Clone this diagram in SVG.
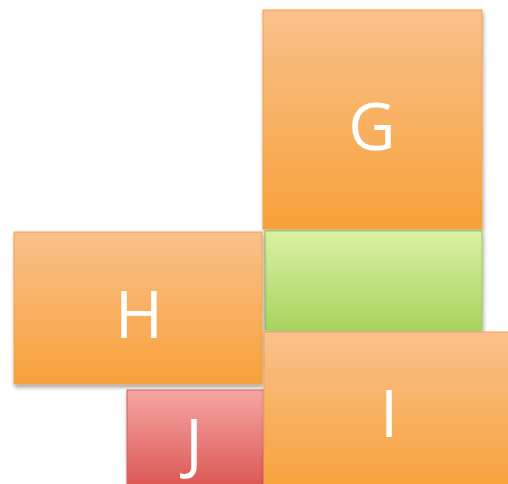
<svg xmlns="http://www.w3.org/2000/svg" width="508" height="484" viewBox="0 0 508 484">
<defs>
<linearGradient id="og" x1="0" y1="0" x2="0" y2="1"><stop offset="0" stop-color="#F9C18B"/><stop offset="1" stop-color="#F7A139"/></linearGradient>
<linearGradient id="gg" x1="0" y1="0" x2="0" y2="1"><stop offset="0" stop-color="#DAF1A4"/><stop offset="1" stop-color="#A9D35F"/></linearGradient>
<linearGradient id="rg" x1="0" y1="0" x2="0" y2="1"><stop offset="0" stop-color="#F6A6A3"/><stop offset="1" stop-color="#DB5552"/></linearGradient>
<filter id="sh" x="-10%" y="-10%" width="130%" height="130%"><feGaussianBlur in="SourceAlpha" stdDeviation="2"/><feOffset dx="1" dy="3"/><feComponentTransfer><feFuncA type="linear" slope="0.35"/></feComponentTransfer><feMerge><feMergeNode/><feMergeNode in="SourceGraphic"/></feMerge></filter>
</defs>
<style>
.o{fill:url(#og);stroke:#F5A04A;stroke-width:1}
.g{fill:url(#gg);stroke:#9CC75A;stroke-width:1}
.r{fill:url(#rg);stroke:#D06060;stroke-width:1}
.t{font-family:"Open Sans","Noto Sans",sans-serif;font-size:65px;font-weight:500;fill:#fff;text-anchor:middle}
</style>
<g id="G" filter="url(#sh)"><rect class="o" x="263" y="10" width="219" height="219"/><text class="t" x="372" y="150">G</text></g>
<g id="green" filter="url(#sh)"><rect class="g" x="265" y="231" width="217" height="99"/></g>
<g id="H" filter="url(#sh)"><rect class="o" x="14" y="232" width="248" height="152"/><text class="t" x="139" y="338">H</text></g>
<g id="J" filter="url(#sh)"><rect class="r" x="127" y="390" width="138" height="100"/><text class="t" x="194" y="466">J</text></g>
<g id="I" filter="url(#sh)"><rect class="o" x="264" y="332" width="250" height="160"/><text class="t" x="389" y="437">I</text></g>
<g id="connectors"/>
</svg>
